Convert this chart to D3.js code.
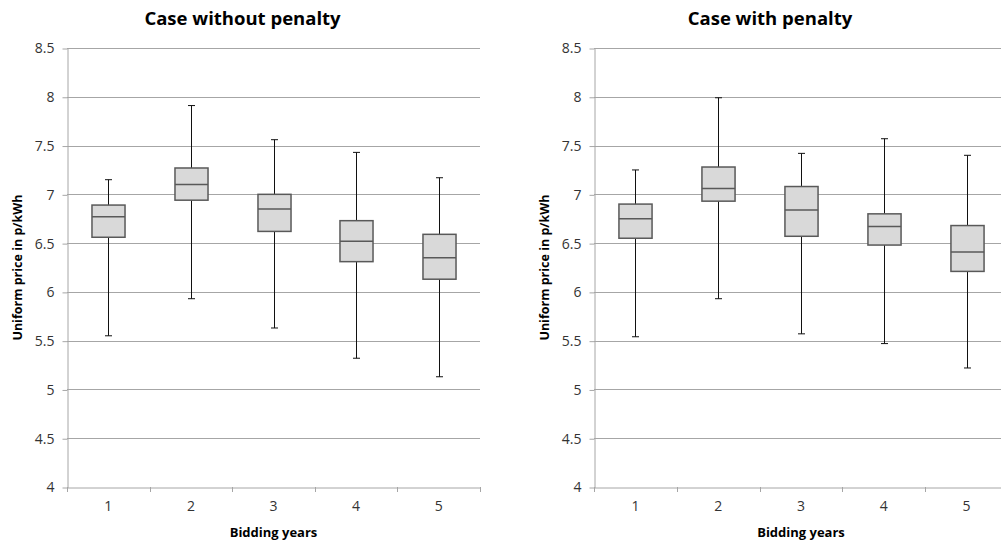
<!DOCTYPE html>
<html>
<head>
<meta charset="utf-8">
<script src="https://cdn.jsdelivr.net/npm/d3@7"></script>
<style>
  html, body { margin: 0; padding: 0; background: #fff; }
  svg { display: block; }
</style>
</head>
<body>
<svg id="chart" width="1001" height="545"></svg>
<script>
// ---- data ----
const categories = ["1", "2", "3", "4", "5"];
const yTicks = [4, 4.5, 5, 5.5, 6, 6.5, 7, 7.5, 8, 8.5];
const yTickLabels = ["4", "4.5", "5", "5.5", "6", "6.5", "7", "7.5", "8", "8.5"];

const titles = ["Case without penalty", "Case with penalty"];
const xTitle = "Bidding years";
const yTitle = "Uniform price in p/kWh";

// Case without penalty
const noPenMin    = [5.55, 5.93, 5.63, 5.32, 5.13];
const noPenQ1     = [6.56, 6.94, 6.62, 6.31, 6.13];
const noPenMedian = [6.77, 7.10, 6.85, 6.52, 6.35];
const noPenQ3     = [6.89, 7.27, 7.00, 6.73, 6.59];
const noPenMax    = [7.15, 7.91, 7.56, 7.43, 7.17];

// Case with penalty
const penMin    = [5.54, 5.93, 5.57, 5.47, 5.22];
const penQ1     = [6.55, 6.93, 6.57, 6.48, 6.21];
const penMedian = [6.75, 7.06, 6.84, 6.67, 6.41];
const penQ3     = [6.90, 7.28, 7.08, 6.80, 6.68];
const penMax    = [7.25, 7.99, 7.42, 7.57, 7.40];

// ---- drawing ----
const svg = d3.select("#chart");
const FONT = "'Open Sans', 'Liberation Sans', sans-serif";

function buildSeries(mins, q1s, meds, q3s, maxs) {
  return categories.map((c, i) => ({ cat: c, min: mins[i], q1: q1s[i], med: meds[i], q3: q3s[i], max: maxs[i] }));
}

const panels = [
  { left: 67, right: 480, data: buildSeries(noPenMin, noPenQ1, noPenMedian, noPenQ3, noPenMax), title: titles[0], yLabelX: 22 },
  { left: 594, right: 1008, data: buildSeries(penMin, penQ1, penMedian, penQ3, penMax), title: titles[1], yLabelX: 549 }
];

const plotTop = 48, plotBottom = 487;

panels.forEach(p => {
  const g = svg.append("g");
  const x = d3.scaleBand().domain(categories).range([p.left, p.right]).padding(0);
  const y = d3.scaleLinear().domain([4, 8.5]).range([plotBottom, plotTop]);

  // gridlines
  g.append("g").selectAll("line").data(yTicks.filter(t => t > 4)).join("line")
    .attr("x1", p.left).attr("x2", p.right)
    .attr("y1", d => Math.round(y(d)) + 0.5).attr("y2", d => Math.round(y(d)) + 0.5)
    .attr("stroke", "#a6a6a6").attr("stroke-width", 1);

  // y axis
  const yAxis = d3.axisLeft(y).tickValues(yTicks)
    .tickFormat((d, i) => yTickLabels[i]).tickSize(5).tickSizeOuter(0).tickPadding(8);
  const ya = g.append("g").attr("transform", `translate(${p.left + 0.5},0.5)`).call(yAxis);
  ya.select(".domain").attr("stroke", "#a6a6a6");
  ya.selectAll(".tick line").attr("stroke", "#a6a6a6");
  ya.selectAll(".tick text").attr("fill", "#333").style("font-family", FONT).style("font-size", "14px");

  // x axis
  const xAxis = d3.axisBottom(x).tickSize(0).tickSizeOuter(0).tickPadding(14);
  const xa = g.append("g").attr("transform", `translate(0,${plotBottom + 0.5})`).call(xAxis);
  xa.select(".domain").attr("stroke", "#a6a6a6");
  xa.selectAll(".tick text").attr("fill", "#333").style("font-family", FONT).style("font-size", "14px");
  // category boundary ticks
  const bounds = categories.map(c => x(c)).concat([x(categories[categories.length - 1]) + x.bandwidth()]);
  g.append("g").selectAll("line").data(bounds).join("line")
    .attr("x1", d => Math.round(d) + 0.5).attr("x2", d => Math.round(d) + 0.5)
    .attr("y1", plotBottom).attr("y2", plotBottom + 5)
    .attr("stroke", "#a6a6a6");

  // boxes
  const bw = x.bandwidth() * 0.4;
  const capW = 7;
  const items = g.append("g").selectAll("g").data(p.data).join("g")
    .attr("transform", d => `translate(${Math.round(x(d.cat) + x.bandwidth() / 2) + 0.5},0)`);

  items.append("line").attr("x1", 0).attr("x2", 0)
    .attr("y1", d => y(d.max)).attr("y2", d => y(d.min))
    .attr("stroke", "#111").attr("stroke-width", 1);
  items.append("line").attr("x1", -capW / 2).attr("x2", capW / 2)
    .attr("y1", d => y(d.max)).attr("y2", d => y(d.max)).attr("stroke", "#111");
  items.append("line").attr("x1", -capW / 2).attr("x2", capW / 2)
    .attr("y1", d => y(d.min)).attr("y2", d => y(d.min)).attr("stroke", "#111");
  items.append("rect")
    .attr("x", -bw / 2).attr("width", bw)
    .attr("y", d => y(d.q3)).attr("height", d => y(d.q1) - y(d.q3))
    .attr("fill", "#d9d9d9").attr("stroke", "#595959").attr("stroke-width", 1.5);
  items.append("line").attr("x1", -bw / 2).attr("x2", bw / 2)
    .attr("y1", d => y(d.med)).attr("y2", d => y(d.med))
    .attr("stroke", "#595959").attr("stroke-width", 1.5);

  // titles
  const cx = (p.left + p.right) / 2;
  g.append("text").attr("x", cx - 31).attr("y", 25)
    .attr("text-anchor", "middle").style("font-family", FONT).style("font-weight", "bold")
    .style("font-size", "18.5px").attr("fill", "#000").text(p.title);
  g.append("text").attr("x", cx).attr("y", 537)
    .attr("text-anchor", "middle").style("font-family", FONT).style("font-weight", "bold")
    .style("font-size", "13px").attr("fill", "#000").text(xTitle);
  g.append("text").attr("transform", `translate(${p.yLabelX},${(plotTop + plotBottom) / 2}) rotate(-90)`)
    .attr("text-anchor", "middle").style("font-family", FONT).style("font-weight", "bold")
    .style("font-size", "12.5px").attr("fill", "#000").text(yTitle);
});
</script>
</body>
</html>
